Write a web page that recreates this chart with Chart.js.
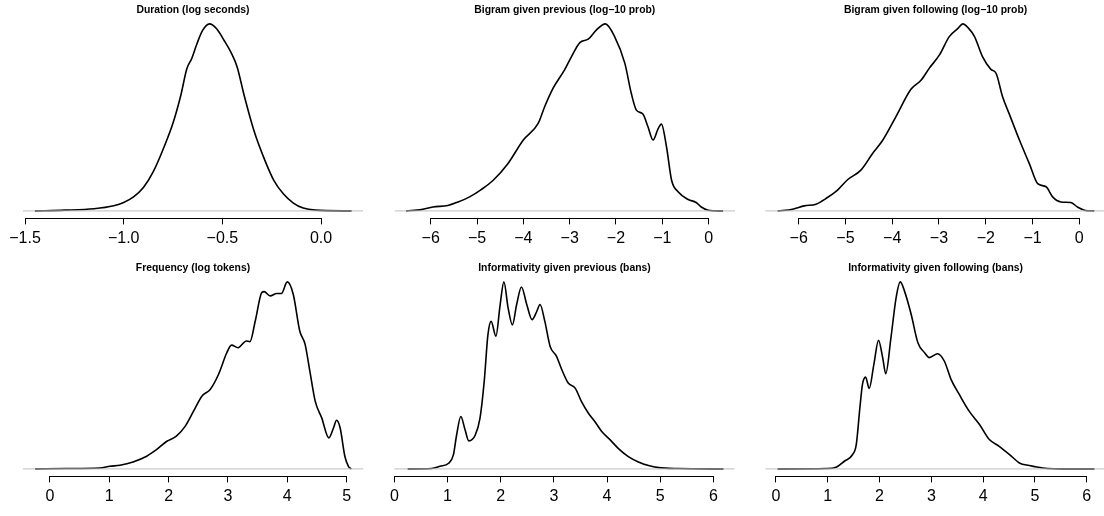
<!DOCTYPE html>
<html>
<head>
<meta charset="utf-8">
<title>Density plots</title>
<script src="https://cdn.jsdelivr.net/npm/chart.js@4/dist/chart.umd.min.js"></script>
<style>
  html, body { margin: 0; padding: 0; background: #fff; }
  body { position: relative; width: 1104px; height: 516px; overflow: hidden; }
  canvas { position: absolute; }
</style>
</head>
<body>
<canvas id="p1" width="368" height="258"></canvas>
<canvas id="p2" width="368" height="258"></canvas>
<canvas id="p3" width="368" height="258"></canvas>
<canvas id="p4" width="368" height="258"></canvas>
<canvas id="p5" width="368" height="258"></canvas>
<canvas id="p6" width="368" height="258"></canvas>
<script>
// density curves, heights relative to each panel's peak
const durationX = [-1.45, -1.30, -1.15, -1.05, -1.00, -0.95, -0.90, -0.85, -0.80, -0.75, -0.71, -0.68, -0.655, -0.63, -0.60, -0.565, -0.53, -0.49, -0.455, -0.425, -0.39, -0.34, -0.29, -0.24, -0.19, -0.14, -0.09, -0.03, 0.155];
const durationY = [0, 0.004, 0.012, 0.028, 0.045, 0.075, 0.125, 0.21, 0.33, 0.47, 0.62, 0.76, 0.815, 0.89, 0.965, 1.0, 0.975, 0.91, 0.845, 0.77, 0.62, 0.43, 0.285, 0.165, 0.09, 0.042, 0.015, 0.004, 0];

const bigramPrevX = [-6.53, -6.20, -5.95, -5.63, -5.41, -5.16, -4.91, -4.65, -4.33, -4.00, -3.68, -3.54, -3.36, -3.11, -2.96, -2.78, -2.60, -2.42, -2.23, -2.03, -1.81, -1.67, -1.56, -1.42, -1.31, -1.20, -1.09, -1.02, -0.91, -0.80, -0.66, -0.44, -0.27, -0.16, -0.01, 0.31];
const bigramPrevY = [0, 0.007, 0.021, 0.029, 0.048, 0.075, 0.114, 0.164, 0.254, 0.379, 0.468, 0.557, 0.655, 0.754, 0.825, 0.90, 0.918, 0.968, 1.0, 0.932, 0.79, 0.629, 0.539, 0.518, 0.45, 0.379, 0.44, 0.464, 0.343, 0.164, 0.102, 0.061, 0.045, 0.021, 0.004, 0];

const bigramFollX = [-6.45, -6.13, -5.88, -5.63, -5.42, -5.17, -4.95, -4.67, -4.42, -4.20, -3.92, -3.60, -3.38, -3.21, -2.99, -2.78, -2.60, -2.49, -2.38, -2.24, -2.07, -1.89, -1.78, -1.64, -1.50, -1.28, -1.07, -0.89, -0.71, -0.57, -0.39, -0.18, -0.04, 0.11, 0.32];
const bigramFollY = [0, 0.009, 0.027, 0.036, 0.066, 0.111, 0.168, 0.218, 0.307, 0.379, 0.504, 0.65, 0.70, 0.762, 0.834, 0.932, 0.975, 1.0, 0.98, 0.932, 0.825, 0.757, 0.736, 0.61, 0.52, 0.379, 0.254, 0.146, 0.129, 0.075, 0.048, 0.045, 0.021, 0.004, 0];

const freqX = [-0.25, 0.28, 0.84, 1.01, 1.18, 1.40, 1.63, 1.80, 1.97, 2.13, 2.28, 2.42, 2.56, 2.70, 2.84, 2.98, 3.06, 3.17, 3.31, 3.37, 3.46, 3.57, 3.61, 3.71, 3.82, 3.90, 4.00, 4.10, 4.21, 4.30, 4.38, 4.47, 4.58, 4.70, 4.78, 4.83, 4.89, 4.97, 5.03, 5.08];
const freqY = [0, 0.002, 0.005, 0.014, 0.02, 0.0375, 0.068, 0.104, 0.148, 0.175, 0.229, 0.309, 0.389, 0.425, 0.505, 0.621, 0.662, 0.648, 0.684, 0.68, 0.791, 0.943, 0.948, 0.925, 0.9375, 0.9375, 1.0, 0.934, 0.7375, 0.666, 0.523, 0.3625, 0.273, 0.166, 0.22, 0.26, 0.22, 0.068, 0.014, 0];

const infoPrevX = [0.25, 0.70, 0.86, 1.02, 1.11, 1.17, 1.25, 1.33, 1.40, 1.52, 1.61, 1.69, 1.76, 1.82, 1.91, 1.99, 2.06, 2.14, 2.22, 2.30, 2.39, 2.49, 2.59, 2.68, 2.74, 2.83, 2.93, 3.05, 3.15, 3.27, 3.40, 3.52, 3.65, 3.77, 3.90, 4.06, 4.21, 4.40, 4.59, 4.78, 4.97, 5.34, 6.19];
const infoPrevY = [0, 0.002, 0.014, 0.03, 0.075, 0.18, 0.28, 0.209, 0.15, 0.18, 0.27, 0.468, 0.718, 0.789, 0.71, 0.879, 1.0, 0.86, 0.77, 0.879, 0.973, 0.879, 0.798, 0.843, 0.879, 0.789, 0.655, 0.602, 0.53, 0.459, 0.432, 0.36, 0.298, 0.254, 0.2, 0.155, 0.11, 0.066, 0.0375, 0.018, 0.007, 0.002, 0];

const infoFollX = [0.03, 0.97, 1.16, 1.32, 1.48, 1.55, 1.62, 1.67, 1.73, 1.80, 1.89, 1.98, 2.06, 2.12, 2.22, 2.32, 2.40, 2.48, 2.61, 2.74, 2.87, 2.96, 3.12, 3.25, 3.38, 3.54, 3.73, 3.93, 4.12, 4.31, 4.51, 4.70, 4.89, 5.15, 5.67, 6.15];
const infoFollY = [0, 0.002, 0.009, 0.041, 0.077, 0.13, 0.327, 0.452, 0.491, 0.43, 0.559, 0.6875, 0.595, 0.509, 0.702, 0.916, 1.0, 0.952, 0.827, 0.675, 0.621, 0.595, 0.616, 0.577, 0.479, 0.398, 0.309, 0.2375, 0.157, 0.121, 0.077, 0.032, 0.018, 0.005, 0, 0];

// axis ticks
const durationTicks = [-1.5, -1.0, -0.5, 0];
const durationLabels = ['\u22121.5', '\u22121.0', '\u22120.5', '0.0'];
const bigramTicks = [-6, -5, -4, -3, -2, -1, 0];
const bigramLabels = ['\u22126', '\u22125', '\u22124', '\u22123', '\u22122', '\u22121', '0'];
const freqTicks = [0, 1, 2, 3, 4, 5];
const freqLabels = ['0', '1', '2', '3', '4', '5'];
const infoTicks = [0, 1, 2, 3, 4, 5, 6];
const infoLabels = ['0', '1', '2', '3', '4', '5', '6'];

const titles = [
    'Duration (log seconds)',
    'Bigram given previous (log\u221210 prob)',
    'Bigram given following (log\u221210 prob)',
    'Frequency (log tokens)',
    'Informativity given previous (bans)',
    'Informativity given following (bans)'
];

const FONT = "'Liberation Sans', Arial, Helvetica, sans-serif";
const PLOT_W = 340.6;

const panels = [
    { id: 'p1', xs: durationX, ys: durationY, ticks: durationTicks, labels: durationLabels, xlim: [-1.5117, 0.2143], left: 0, top: 0, padL: 22.7 },
    { id: 'p2', xs: bigramPrevX, ys: bigramPrevY, ticks: bigramTicks, labels: bigramLabels, xlim: [-6.781, 0.571], left: 372, top: 0, padL: 22.5 },
    { id: 'p3', xs: bigramFollX, ys: bigramFollY, ticks: bigramTicks, labels: bigramLabels, xlim: [-6.714, 0.569], left: 743, top: 0, padL: 22.3 },
    { id: 'p4', xs: freqX, ys: freqY, ticks: freqTicks, labels: freqLabels, xlim: [-0.46, 5.281], left: 0, top: 258, padL: 22.7 },
    { id: 'p5', xs: infoPrevX, ys: infoPrevY, ticks: infoTicks, labels: infoLabels, xlim: [-0.003, 6.403], left: 372, top: 258, padL: 22.2 },
    { id: 'p6', xs: infoFollX, ys: infoFollY, ticks: infoTicks, labels: infoLabels, xlim: [-0.2066, 6.371], left: 743, top: 258, padL: 22.3 }
];

function crisp(v) {
    return Math.round(v - 0.5) + 0.5;
}

// R-style axis line: only from first to last tick
const axisLine = {
    id: 'axisLine',
    afterDraw(chart) {
        const s = chart.scales.x;
        if (!s.ticks.length) return;
        const ctx = chart.ctx;
        const y = crisp(s.top);
        ctx.save();
        ctx.strokeStyle = '#000';
        ctx.lineWidth = 1;
        ctx.beginPath();
        ctx.moveTo(crisp(s.getPixelForValue(s.ticks[0].value)), y);
        ctx.lineTo(crisp(s.getPixelForValue(s.ticks[s.ticks.length - 1].value)), y);
        ctx.stroke();
        ctx.restore();
    }
};

panels.forEach((p, i) => {
    const el = document.getElementById(p.id);
    el.style.left = p.left + 'px';
    el.style.top = p.top + 'px';

    const curve = p.xs.map((x, j) => ({ x: x, y: p.ys[j] }));
    const peak = Math.max(...p.ys);

    new Chart(el.getContext('2d'), {
        type: 'line',
        data: {
            datasets: [
                {
                    data: [{ x: p.xlim[0], y: 0 }, { x: p.xlim[1], y: 0 }],
                    borderColor: '#bebebe',
                    borderWidth: 1,
                    pointRadius: 0
                },
                {
                    data: curve,
                    borderColor: '#000',
                    borderWidth: 1.6,
                    pointRadius: 0,
                    cubicInterpolationMode: 'monotone'
                }
            ]
        },
        options: {
            responsive: false,
            animation: false,
            devicePixelRatio: 1,
            layout: { padding: { left: p.padL, right: 368 - p.padL - PLOT_W, top: 0, bottom: 7.6 } },
            plugins: {
                legend: { display: false },
                tooltip: { enabled: false },
                title: {
                    display: true,
                    text: titles[i],
                    color: '#000',
                    font: { family: FONT, size: 10.4, weight: 'bold', lineHeight: 1.2 },
                    padding: { top: 3.76, bottom: 0.16 }
                }
            },
            scales: {
                x: {
                    type: 'linear',
                    min: p.xlim[0],
                    max: p.xlim[1],
                    border: { display: false },
                    grid: { drawOnChartArea: false, drawTicks: true, tickLength: 6, color: '#000', lineWidth: 1 },
                    afterBuildTicks: s => { s.ticks = p.ticks.map(v => ({ value: v })); },
                    afterFit: s => { s.height = 32; },
                    ticks: {
                        autoSkip: false,
                        maxRotation: 0,
                        padding: 5,
                        color: '#000',
                        font: { family: FONT, size: 16 },
                        callback: (v, idx) => p.labels[idx]
                    }
                },
                y: {
                    display: false,
                    min: -0.04 * peak,
                    max: 1.04 * peak
                }
            }
        },
        plugins: [axisLine]
    });
});
</script>
</body>
</html>
